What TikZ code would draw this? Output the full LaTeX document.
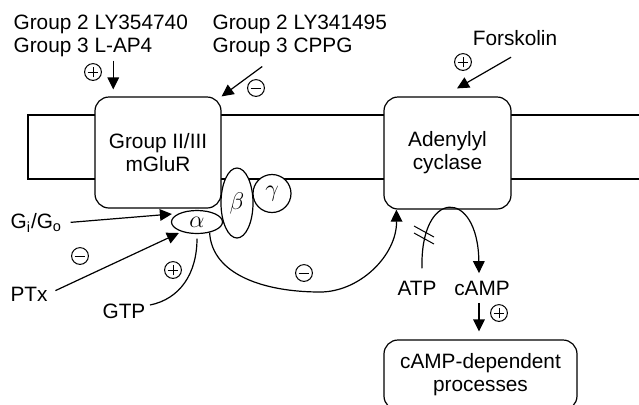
\documentclass[tikz,border=0pt]{standalone}
\usepackage{fontspec}
\setmainfont{Liberation Sans}
\usepackage{tikz}
\usetikzlibrary{calc}
\usetikzlibrary{positioning}
\usetikzlibrary{arrows.meta}
\usetikzlibrary{shapes.geometric}
\tikzset{
  box/.style={draw, rounded corners=7pt, fill=white, align=center},
  lbl/.style={inner sep=0pt, align=left},
  arr/.style={-{Triangle[length=6pt,width=5.8pt]}},
  subunit/.style={ellipse, draw, fill=white, inner sep=0pt, font=\fontsize{11.5}{12}\selectfont},
  signcirc/.style={circle, draw, inner sep=0pt, minimum size=8.4pt, line width=.5pt},
  pluscirc/.style={signcirc, path picture={
    \draw[line width=.5pt] ($(path picture bounding box.center)+(-2.7pt,0)$) -- ++(5.4pt,0)
      ($(path picture bounding box.center)+(0,-2.7pt)$) -- ++(0,5.4pt);}},
  minuscirc/.style={signcirc, path picture={
    \draw[line width=.5pt] ($(path picture bounding box.center)+(-2.7pt,0)$) -- ++(5.4pt,0);}}
}
\begin{document}
\begin{tikzpicture}[x=.5pt, y=-.5pt, line width=.6pt,
    font=\fontsize{10.4}{11.5}\selectfont]
  \useasboundingbox (0,0) rectangle (639,404);
  \clip (0,0) rectangle (639,404);

  % membrane
  \draw[line width=.8pt] (660,115) -| (28,179) -- (660,179);

  \node[box, minimum width=63pt, minimum height=55.5pt] (mglur) at (158,152.5) {Group II/III\\mGluR};
  \node[box, minimum width=63.5pt, minimum height=56pt] (ac) at (447.5,153) {Adenylyl\\cyclase};
  \node[box, minimum width=96.5pt, minimum height=35pt] (cdp) at (480.5,375) {cAMP-dependent\\processes};

  % G protein
  \node[subunit, minimum width=25.5pt, minimum height=11.5pt] (alpha) at (197,222) {$\alpha$};
  \node[subunit, minimum width=16pt, minimum height=35pt] (beta) at (237,203) {$\beta$};
  \node[subunit, minimum width=19pt, minimum height=19pt] (gamma) at (272,193.5) {$\gamma$};

  \node[lbl, anchor=west] (ago) at (13,36) {Group 2 LY354740\\Group 3 L-AP4};
  \node[lbl, anchor=west] (antago) at (212,36) {Group 2 LY341495\\Group 3 CPPG};
  \node[lbl] (forsk) at (515,38) {Forskolin};
  \node[lbl, anchor=west] (gigo) at (10,223) {G\textsubscript{i}/G\textsubscript{o}};
  \node[lbl, anchor=west] (ptx) at (10,294) {PTx};
  \node[lbl, anchor=west] (gtp) at (102,311) {GTP};
  \node[lbl] (atp) at (417,288) {ATP};
  \node[lbl] (camp) at (482,288) {cAMP};

  \coordinate (agotail) at ([shift={(12.5,3)}]ago.south);
  \coordinate (antagotail) at ([shift={(-37.5,9)}]antago.south);
  \coordinate (forsktail) at ([shift={(-4,11)}]forsk.south);
  \coordinate (camptail) at ([shift={(-3,7)}]camp.south);
  \coordinate (tick) at (425,235);

  \draw[arr, shorten >=3.5pt] (agotail) -- (agotail |- mglur.north);
  \draw[arr] (antagotail) -- (mglur.north east);
  \draw[arr] (forsktail) -- ([shift={(9.5,-8)}]ac.north);
  \draw[arr, shorten <=4pt] (gigo.east) -- ([shift={(1,-8)}]alpha.west);
  \draw[arr, shorten <=4pt] (ptx.east) -- ([shift={(8,11)}]alpha.west);
  \draw ([shift={(4,-6)}]gtp.east) .. controls +(30,-6) and +(0,35) .. ([shift={(0,4.5)}]alpha.south);
  \draw[arr] (alpha.-40) .. controls (212,275) and (265,292) .. (320,292)
    .. controls (360,292) and (397,255) .. ([shift={(13,0)}]ac.south west);
  \draw[arr] ([shift={(5,-12)}]atp.north) .. controls (420,188) and (478,188) .. ([shift={(-3,-7)}]camp.north);
  \draw[line width=.5pt] ([shift={(-11,-9)}]tick) -- ([shift={(9,2)}]tick)
    ([shift={(-11,-2)}]tick) -- ([shift={(9,9)}]tick);
  \draw[arr, shorten >=4pt] (camptail) -- (camptail |- cdp.north);

  \node[pluscirc] (p1) at (93,72) {};
  \node[minuscirc] (m1) at (256,88) {};
  \node[pluscirc] (p2) at (463,62) {};
  \node[minuscirc] (m2) at (80,256) {};
  \node[pluscirc] (p3) at (173,270) {};
  \node[minuscirc] (m3) at (304,273) {};
  \node[pluscirc] (p4) at (499,313) {};

\end{tikzpicture}
\end{document}
